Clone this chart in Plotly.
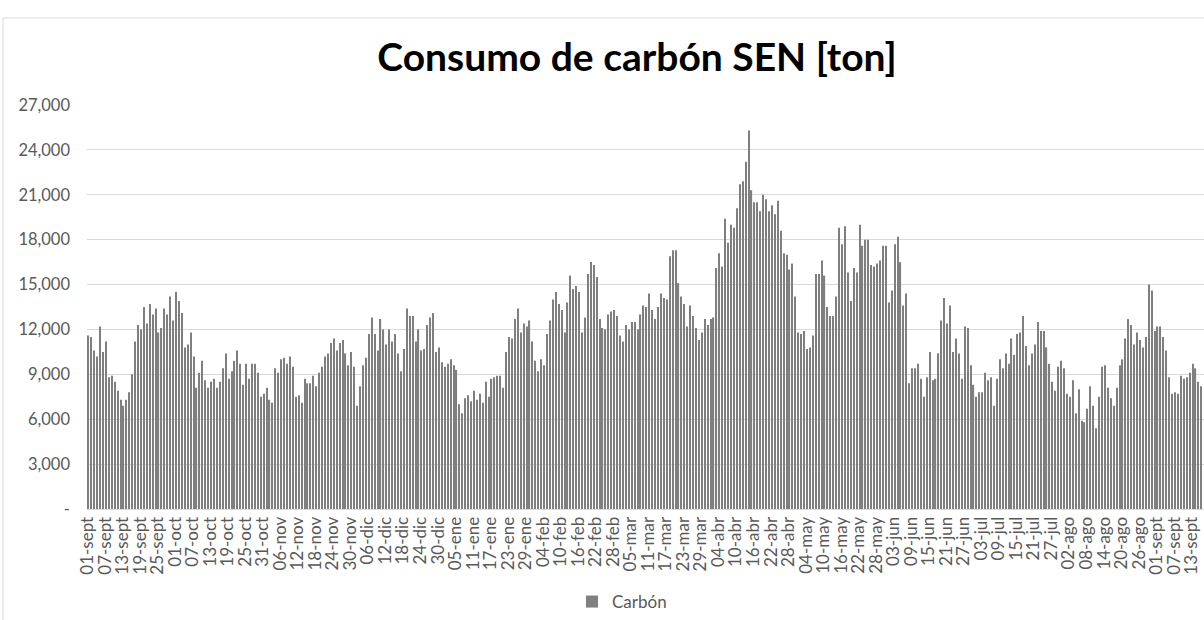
import pandas as pd
import plotly.graph_objects as go

# Daily coal consumption (ton), by month
sep_2019 = [11600, 11500, 10600, 10200, 12200, 10500, 11200, 8800, 8900, 8500, 7900, 7300, 6900, 7300, 7800,
            9000, 11200, 12300, 12000, 13500, 12400, 13700, 13000, 13400, 11800, 12100, 13400, 13000, 14200, 12600]
oct_2019 = [14500, 13900, 13100, 10800, 11000, 11800, 10200, 8100, 9100, 9900, 8600, 8100, 8500, 8700, 8100,
            8500, 9400, 10400, 8700, 9200, 9900, 10600, 9700, 8300, 9700, 8700, 9700, 9700, 9100, 7500, 7700]
nov_2019 = [8100, 7300, 7100, 9400, 9100, 10000, 10100, 9700, 10200, 9500, 7500, 7600, 7100, 8700, 8400,
            8400, 8900, 8200, 9100, 9500, 10200, 10400, 11100, 11400, 10600, 11100, 11300, 10400, 9600, 10500]
dic_2019 = [9500, 6900, 8200, 9600, 10100, 11700, 12800, 11700, 10600, 12700, 12000, 11000, 12000, 11200, 11700,
            10400, 9200, 10700, 13400, 12900, 12900, 11200, 12000, 10600, 10700, 12300, 12800, 13100, 10500, 10800, 9800]
ene_2020 = [9500, 9700, 10000, 9600, 9300, 7000, 6400, 7400, 7600, 7200, 7900, 7300, 7700, 7100, 8500,
            7500, 8700, 8800, 8900, 8900, 8100, 10500, 11500, 11400, 12700, 13400, 11800, 12400, 12200, 12600, 11200]
feb_2020 = [9900, 9200, 10000, 9600, 11700, 12600, 14000, 14500, 13700, 13300, 11800, 13800, 15600, 14700, 14900,
            14500, 11800, 12800, 15700, 16500, 16300, 15500, 12700, 12100, 12000, 13000, 13200, 13300, 12900]
mar_2020 = [11600, 11200, 12300, 12000, 12500, 12500, 12000, 13000, 13600, 13500, 14400, 13300, 12700, 13500, 14400,
            14100, 14000, 16900, 17300, 17300, 15100, 14200, 13700, 12200, 13600, 12900, 12100, 11300, 11800, 12700, 12300]
abr_2020 = [12700, 12800, 16100, 17100, 16200, 19400, 17800, 19000, 18800, 20100, 21700, 21900, 23200, 25300, 21300,
            20500, 20500, 19900, 21000, 20700, 19900, 20300, 19700, 20600, 18600, 17100, 17000, 16000, 16400, 14200]
may_2020 = [11800, 11700, 11900, 10700, 10800, 11600, 15700, 15700, 16600, 15600, 13500, 12900, 12900, 14200, 18800,
            17700, 18900, 15800, 13900, 16100, 15800, 19000, 17600, 18000, 18000, 16300, 16200, 16400, 16600, 17600, 17600]
jun_2020 = [13800, 14600, 17700, 18200, 16500, 13600, 14400, 8400, 9400, 9400, 9700, 8700, 7500, 8800, 10500,
            8600, 8700, 10400, 12600, 14100, 12400, 13600, 10500, 11400, 10400, 8700, 12200, 12100, 9600, 8300]
jul_2020 = [7500, 7800, 7800, 9100, 8600, 8800, 6900, 8700, 10000, 9400, 10400, 9700, 11400, 10300, 11700,
            11800, 12900, 10900, 9600, 10400, 11000, 12500, 11900, 11900, 10800, 9700, 8500, 7900, 9500, 9900, 9400]
ago_2020 = [7700, 7500, 8600, 6400, 8000, 5900, 5800, 6700, 8200, 6900, 5400, 7500, 9500, 9600, 8100,
            7400, 6900, 8100, 9600, 10000, 11400, 12700, 12300, 11000, 11800, 11300, 10800, 11500, 15000, 14600, 11900]
sep_2020 = [12200, 12200, 11500, 10600, 8800, 7700, 7800, 7700, 8900, 8700, 8800, 9100, 9700, 9400, 8500, 8200]

values = (sep_2019 + oct_2019 + nov_2019 + dic_2019 + ene_2020 + feb_2020 + mar_2020
          + abr_2020 + may_2020 + jun_2020 + jul_2020 + ago_2020 + sep_2020)

month_abbr = {1: "ene", 2: "feb", 3: "mar", 4: "abr", 5: "may", 6: "jun",
              7: "jul", 8: "ago", 9: "sept", 10: "oct", 11: "nov", 12: "dic"}
dates = pd.date_range("2019-09-01", periods=len(values), freq="D")
day_labels = [f"{d.day:02d}-{month_abbr[d.month]}" for d in dates]

x_idx = list(range(len(values)))
tick_step = 6
tick_vals_x = x_idx[::tick_step]
tick_text_x = day_labels[::tick_step]

y_ticks = [0, 3000, 6000, 9000, 12000, 15000, 18000, 21000, 24000, 27000]
y_tick_text = ["-" if v == 0 else f"{v:,}" for v in y_ticks]

W, H = 1204, 620
L, R, T, B = 87, 0, 105, 111
pw, ph = W - L - R, H - T - B

fig = go.Figure()
fig.add_trace(go.Bar(
    x=x_idx, y=values, name="Carbón",
    marker=dict(color="#7f7f7f", line=dict(width=0)),
    hovertext=day_labels,
))

grey_txt = "#595959"
fig.update_layout(
    width=W, height=H,
    margin=dict(l=L, r=R, t=T, b=B),
    paper_bgcolor="white", plot_bgcolor="white",
    bargap=0.6,
    font=dict(family="Lato, 'Open Sans', sans-serif", color=grey_txt),
    title=dict(text="<b>Consumo de carbón SEN [ton]</b>",
               font=dict(family="Lato, sans-serif", size=39, color="black"),
               xref="container", yref="container",
               x=637 / W, y=1 - 57 / H, xanchor="center", yanchor="middle"),
    showlegend=True,
    legend=dict(orientation="h", xref="container", yref="container",
                x=622 / W, y=1 - 602 / H, xanchor="center", yanchor="middle",
                font=dict(size=17, color=grey_txt), itemwidth=30),
    xaxis=dict(
        range=[-0.5, len(values) - 0.5 + 0.4],
        tickmode="array", tickvals=tick_vals_x, ticktext=tick_text_x,
        tickangle=-90, tickfont=dict(size=17, color=grey_txt),
        showgrid=False, zeroline=False,
        showline=True, linecolor="#d9d9d9", linewidth=1,
        ticks="", ticklabelshift=-1,
    ),
    yaxis=dict(
        range=[0, 27000],
        tickmode="array", tickvals=y_ticks, ticktext=y_tick_text,
        tickfont=dict(size=16.5, color=grey_txt),
        showgrid=True, gridcolor="#d9d9d9", gridwidth=1,
        zeroline=False, showline=False, ticks="",
        ticklabelstandoff=16,
    ),
    shapes=[dict(type="rect", xref="paper", yref="paper",
                 x0=(3 - L) / pw, x1=(W + 20 - L) / pw,
                 y0=(H - B - (H + 20)) / ph, y1=(H - B - 18) / ph,
                 line=dict(color="#d9d9d9", width=1), fillcolor="rgba(0,0,0,0)",
                 layer="below")],
)

fig.write_html("out.html", config={"displayModeBar": False},
               post_script="document.body.style.margin='0';")
